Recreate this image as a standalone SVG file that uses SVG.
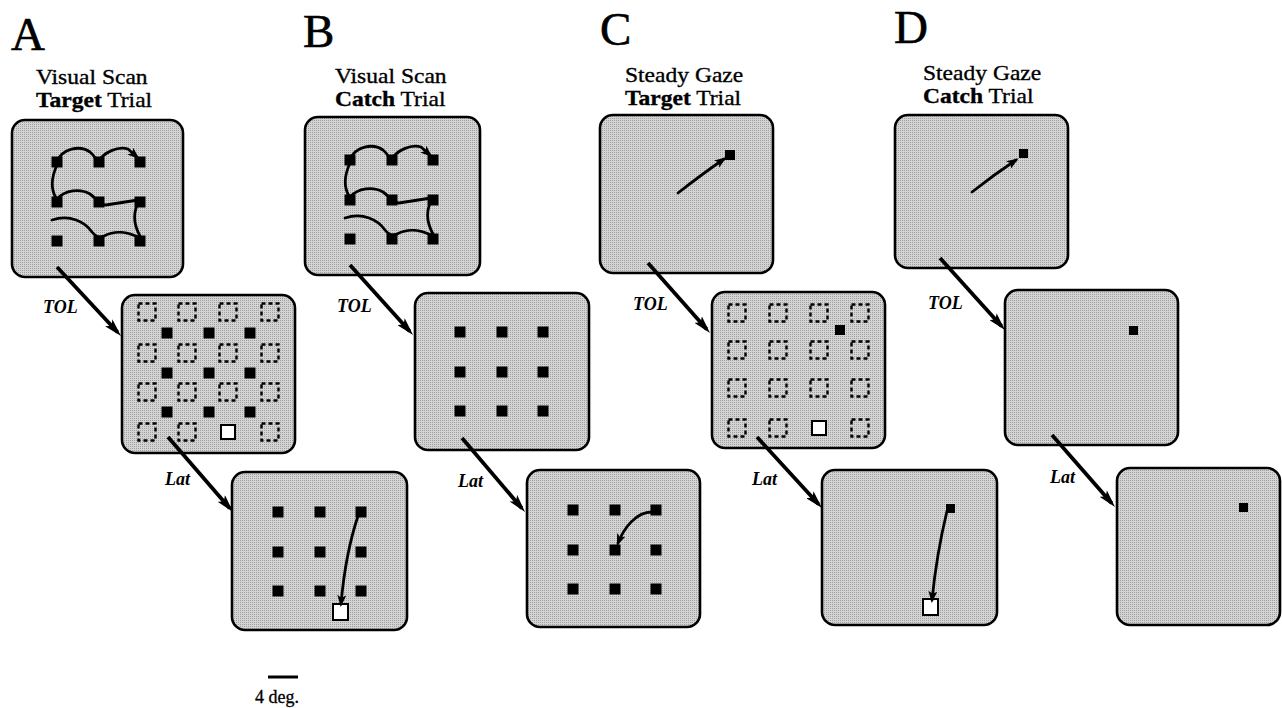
<svg xmlns="http://www.w3.org/2000/svg" width="1282" height="708" viewBox="0 0 1282 708">
<defs>
  <!-- halftone-like grey used for every screen -->
  <pattern id="tone" width="2" height="2" patternUnits="userSpaceOnUse">
    <rect width="2" height="2" fill="#d4d4d4"/>
    <rect width="1" height="1" fill="#a0a0a0"/>
  </pattern>
  <marker id="ah" markerWidth="18" markerHeight="10" refX="13" refY="5" orient="auto" markerUnits="userSpaceOnUse">
    <path d="M0,0 L18,5 L0,10 L4,5 z" fill="#000"/>
  </marker>
  <marker id="sh" markerWidth="12" markerHeight="9" refX="9" refY="4.5" orient="auto" markerUnits="userSpaceOnUse">
    <path d="M0,0 L12,4.5 L0,9 L3,4.5 z" fill="#000"/>
  </marker>
  <!-- scan path over the 3x3 array (origin = top-left dot) -->
  <g id="scanpath" fill="none" stroke="#000" stroke-width="2.8" stroke-linecap="round">
    <path d="M0,0 C5,-14 23,-17 33,-10 C38,-6 39,-2 41,0 C47,-10 61,-16 71,-13 L80,-5" marker-end="url(#sh)"/>
    <path d="M-1,36 C-7,26 -5,14 0,3"/>
    <path d="M0,37 C8,28 23,26 33,32 C39,36 43,43 49,43 L81,38"/>
    <path d="M83,38 C75,50 77,63 83,74"/>
    <path d="M-5,58 C13,52 28,60 35,70 C39,75 43,76 47,74 C58,68 71,70 81,75"/>
  </g>
  <g id="grid3">
    <rect x="-5.5" y="-5.5" width="11" height="11"/>
    <rect x="36.5" y="-5.5" width="11" height="11"/>
    <rect x="77.5" y="-5.5" width="11" height="11"/>
    <rect x="-5.5" y="34.5" width="11" height="11"/>
    <rect x="36.5" y="34.5" width="11" height="11"/>
    <rect x="77.5" y="34.5" width="11" height="11"/>
    <rect x="-5.5" y="73.5" width="11" height="11"/>
    <rect x="36.5" y="73.5" width="11" height="11"/>
    <rect x="77.5" y="73.5" width="11" height="11"/>
  </g>
</defs>
<style>
  .screen { fill: url(#tone); stroke: #000; stroke-width: 2.6; }
  .dot { fill: #000; }
  .hole { fill: none; stroke: #000; stroke-width: 2.4; stroke-dasharray: 4 3; }
  .goal { fill: #fff; stroke: #000; stroke-width: 2; }
  .letter { font-family: "Liberation Serif", "Times New Roman", serif; font-size: 47px; fill: #000; stroke: #000; stroke-width: 0.6; }
  .title { font-family: "Liberation Serif", "Times New Roman", serif; font-size: 22px; fill: #000; stroke: #000; stroke-width: 0.35; }
  .title .b { font-weight: bold; }
  .lab { font-family: "Liberation Serif", "Times New Roman", serif; font-size: 18px; font-weight: bold; font-style: italic; fill: #000; }
  .sac { fill: none; stroke: #000; stroke-width: 2.8; stroke-linecap: round; }
  .link { stroke: #000; stroke-width: 3.8; fill: none; }
</style>
<rect width="1282" height="708" fill="#fff"/>

<!-- headings -->
<g id="headings">
  <text class="letter" x="11" y="50">A</text>
  <text class="letter" x="303" y="47">B</text>
  <text class="letter" x="600" y="45">C</text>
  <text class="letter" x="894" y="43">D</text>
  <g transform="translate(36,0) scale(1.07,1)">
    <text class="title" x="0" y="84">Visual Scan</text>
    <text class="title" x="0" y="107"><tspan class="b">Target</tspan> Trial</text>
  </g>
  <g transform="translate(335,0) scale(1.07,1)">
    <text class="title" x="0" y="83">Visual Scan</text>
    <text class="title" x="0" y="106"><tspan class="b">Catch</tspan> Trial</text>
  </g>
  <g transform="translate(625,0) scale(1.07,1)">
    <text class="title" x="0" y="82">Steady Gaze</text>
    <text class="title" x="0" y="105"><tspan class="b">Target</tspan> Trial</text>
  </g>
  <g transform="translate(923,0) scale(1.07,1)">
    <text class="title" x="0" y="80">Steady Gaze</text>
    <text class="title" x="0" y="103"><tspan class="b">Catch</tspan> Trial</text>
  </g>
</g>

<!-- column A -->
<g id="a-scan">
  <rect class="screen" x="12" y="120" width="171" height="157" rx="13"/>
  <use href="#grid3" x="57" y="162" class="dot"/>
  <use href="#scanpath" x="57" y="162"/>
</g>
<g id="a-tol">
  <rect class="screen" x="122" y="295" width="173" height="158" rx="13"/>
  <g class="hole">
    <rect x="138.5" y="303.5" width="17" height="17"/><rect x="178.5" y="303.5" width="17" height="17"/><rect x="219.5" y="303.5" width="17" height="17"/><rect x="261.5" y="303.5" width="17" height="17"/>
    <rect x="138.5" y="344.5" width="17" height="17"/><rect x="178.5" y="344.5" width="17" height="17"/><rect x="219.5" y="344.5" width="17" height="17"/><rect x="261.5" y="344.5" width="17" height="17"/>
    <rect x="138.5" y="383.5" width="17" height="17"/><rect x="178.5" y="383.5" width="17" height="17"/><rect x="219.5" y="383.5" width="17" height="17"/><rect x="261.5" y="383.5" width="17" height="17"/>
    <rect x="138.5" y="423.5" width="17" height="17"/><rect x="178.5" y="423.5" width="17" height="17"/><rect x="261.5" y="423.5" width="17" height="17"/>
  </g>
  <rect class="goal" x="221" y="425" width="14" height="14"/>
  <use href="#grid3" x="167" y="333" class="dot"/>
</g>
<g id="a-lat">
  <rect class="screen" x="232" y="472" width="175" height="158" rx="13"/>
  <use href="#grid3" x="278" y="512" class="dot"/>
  <rect class="goal" x="333" y="604" width="15" height="16"/>
  <path class="sac" d="M358,516 C350,540 344,570 341,604" marker-end="url(#sh)"/>
</g>

<!-- column B -->
<g id="b-scan">
  <rect class="screen" x="305" y="117" width="175" height="158" rx="13"/>
  <use href="#grid3" x="350" y="160" class="dot"/>
  <use href="#scanpath" x="350" y="160"/>
</g>
<g id="b-tol">
  <rect class="screen" x="415" y="293" width="174" height="157" rx="13"/>
  <use href="#grid3" x="460" y="332" class="dot"/>
</g>
<g id="b-lat">
  <rect class="screen" x="527" y="470" width="173" height="157" rx="13"/>
  <use href="#grid3" x="573" y="510" class="dot"/>
  <path class="sac" d="M652,512 C636,512 624,528 618,543" marker-end="url(#sh)"/>
</g>

<!-- column C -->
<g id="c-gaze">
  <rect class="screen" x="600" y="115" width="173" height="158" rx="13"/>
  <rect class="dot" x="725" y="150" width="10" height="10"/>
  <path class="sac" d="M678,193 C692,182 708,170 724,159" marker-end="url(#sh)"/>
</g>
<g id="c-tol">
  <rect class="screen" x="712" y="292" width="173" height="156" rx="13"/>
  <g class="hole">
    <rect x="728.5" y="304.5" width="17" height="17"/><rect x="769.5" y="304.5" width="17" height="17"/><rect x="810.5" y="304.5" width="17" height="17"/><rect x="851.5" y="304.5" width="17" height="17"/>
    <rect x="728.5" y="341.5" width="17" height="17"/><rect x="769.5" y="341.5" width="17" height="17"/><rect x="810.5" y="341.5" width="17" height="17"/><rect x="851.5" y="341.5" width="17" height="17"/>
    <rect x="728.5" y="379.5" width="17" height="17"/><rect x="769.5" y="379.5" width="17" height="17"/><rect x="810.5" y="379.5" width="17" height="17"/><rect x="851.5" y="379.5" width="17" height="17"/>
    <rect x="728.5" y="419.5" width="17" height="17"/><rect x="769.5" y="419.5" width="17" height="17"/><rect x="851.5" y="419.5" width="17" height="17"/>
  </g>
  <rect class="dot" x="835" y="325" width="10" height="10"/>
  <rect class="goal" x="812" y="421" width="14" height="14"/>
</g>
<g id="c-lat">
  <rect class="screen" x="822" y="470" width="175" height="155" rx="13"/>
  <rect class="dot" x="946" y="504" width="9" height="9"/>
  <rect class="goal" x="923" y="599" width="15" height="16"/>
  <path class="sac" d="M947,511 C940,540 935,570 932,600" marker-end="url(#sh)"/>
</g>

<!-- column D -->
<g id="d-gaze">
  <rect class="screen" x="895" y="115" width="173" height="153" rx="13"/>
  <rect class="dot" x="1019" y="149" width="9" height="9"/>
  <path class="sac" d="M972,192 C986,181 1001,170 1016,160" marker-end="url(#sh)"/>
</g>
<g id="d-tol">
  <rect class="screen" x="1005" y="290" width="173" height="155" rx="13"/>
  <rect class="dot" x="1129" y="326" width="9" height="9"/>
</g>
<g id="d-lat">
  <rect class="screen" x="1117" y="468" width="163" height="157" rx="13"/>
  <rect class="dot" x="1239" y="503" width="9" height="9"/>
</g>

<!-- transitions between screens -->
<g id="connectors">
  <line class="link" x1="57" y1="267" x2="117.6" y2="332.3" marker-end="url(#ah)"/>
  <line class="link" x1="168" y1="437" x2="229.7" y2="508.2" marker-end="url(#ah)"/>
  <line class="link" x1="350" y1="265" x2="409.7" y2="331.3" marker-end="url(#ah)"/>
  <line class="link" x1="462" y1="438" x2="521.8" y2="508.2" marker-end="url(#ah)"/>
  <line class="link" x1="648" y1="263" x2="706.7" y2="329.3" marker-end="url(#ah)"/>
  <line class="link" x1="757" y1="437" x2="818.6" y2="504.3" marker-end="url(#ah)"/>
  <line class="link" x1="940" y1="258" x2="1001.6" y2="326.3" marker-end="url(#ah)"/>
  <line class="link" x1="1052" y1="435" x2="1111.7" y2="503.2" marker-end="url(#ah)"/>
  <text class="lab" x="43" y="313">TOL</text>
  <text class="lab" x="165" y="485">Lat</text>
  <text class="lab" x="337" y="312">TOL</text>
  <text class="lab" x="458" y="487">Lat</text>
  <text class="lab" x="633" y="310">TOL</text>
  <text class="lab" x="752" y="485">Lat</text>
  <text class="lab" x="928" y="309">TOL</text>
  <text class="lab" x="1050" y="483">Lat</text>
</g>

<!-- scale bar -->
<g id="scale">
  <line x1="268" y1="677" x2="298" y2="677" stroke="#000" stroke-width="3"/>
  <text x="255" y="703" font-family="Liberation Serif, Times New Roman, serif" font-size="18" stroke="#000" stroke-width="0.3">4 deg.</text>
</g>
</svg>
